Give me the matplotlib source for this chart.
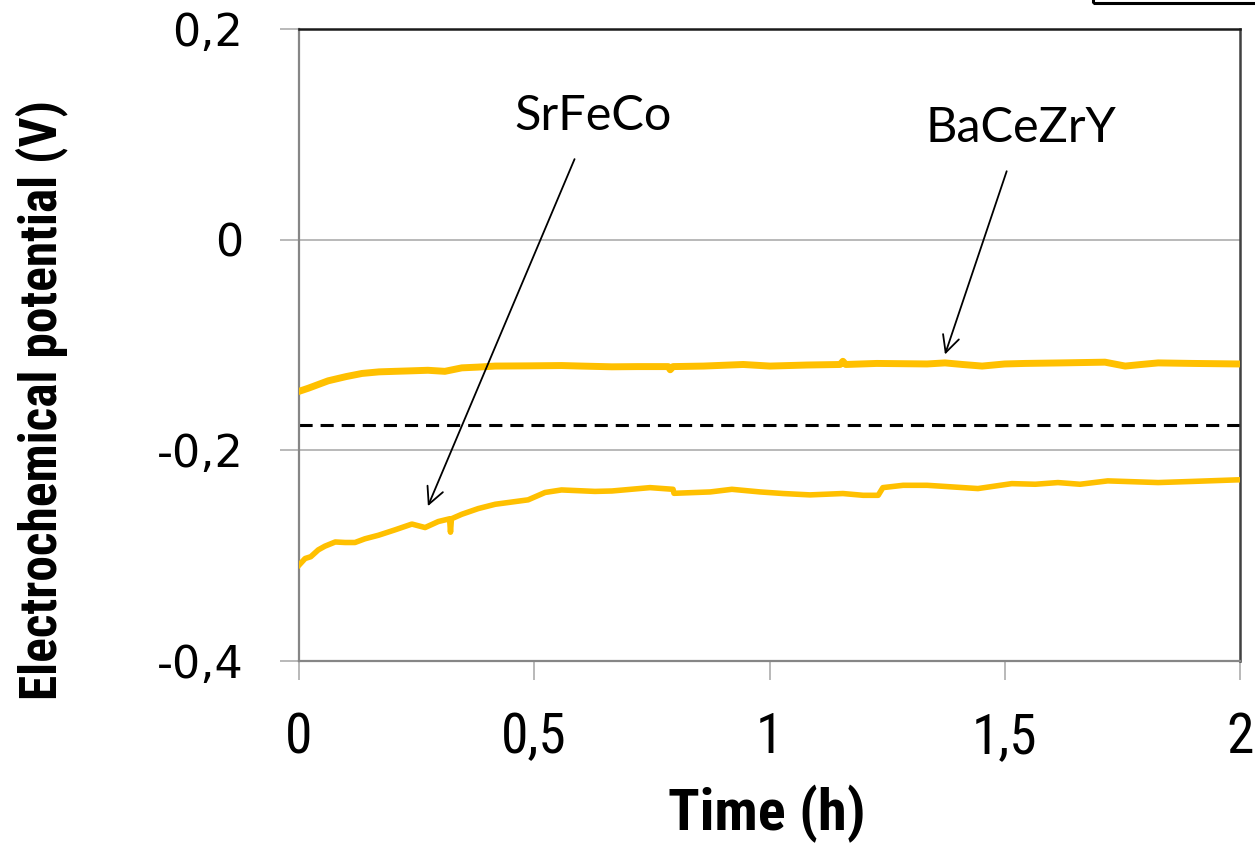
import numpy as np
import matplotlib.pyplot as plt
from matplotlib.patches import Rectangle

# potential vs time, BaCeZrY electrode
t_bcz = [0.0, 0.02, 0.062, 0.10, 0.134, 0.17, 0.204, 0.24, 0.274, 0.31, 0.346, 0.38, 0.417,
         0.487, 0.558, 0.60, 0.665, 0.72, 0.785, 0.789, 0.795, 0.86, 0.944, 1.001, 1.08,
         1.150, 1.156, 1.162, 1.228, 1.335, 1.373, 1.41, 1.452, 1.50, 1.543, 1.62, 1.713,
         1.756, 1.79, 1.826, 1.90, 1.996]
v_bcz = [-0.144, -0.141, -0.134, -0.130, -0.127, -0.1255, -0.125, -0.1245, -0.124, -0.125,
         -0.1217, -0.121, -0.120, -0.1198, -0.1195, -0.120, -0.1207, -0.1205, -0.1205,
         -0.1235, -0.1205, -0.120, -0.1185, -0.120, -0.119, -0.1185, -0.1155, -0.1185,
         -0.1175, -0.118, -0.117, -0.1185, -0.120, -0.118, -0.1175, -0.117, -0.1163,
         -0.120, -0.1185, -0.117, -0.1175, -0.118]

# potential vs time, SrFeCo electrode
t_sfc = [0.0, 0.013, 0.025, 0.041, 0.055, 0.077, 0.098, 0.119, 0.140, 0.169, 0.204, 0.240,
         0.268, 0.296, 0.320, 0.322, 0.324, 0.346, 0.381, 0.417, 0.487, 0.523, 0.558,
         0.629, 0.665, 0.746, 0.795, 0.797, 0.874, 0.920, 0.980, 1.029, 1.086, 1.156,
         1.199, 1.231, 1.241, 1.284, 1.335, 1.443, 1.515, 1.565, 1.613, 1.660, 1.719,
         1.826, 1.90, 1.996]
v_sfc = [-0.309, -0.3027, -0.301, -0.2945, -0.291, -0.287, -0.2875, -0.2875, -0.284, -0.2806,
         -0.2755, -0.270, -0.2733, -0.2676, -0.265, -0.2777, -0.265, -0.2607, -0.2553,
         -0.2512, -0.247, -0.240, -0.2376, -0.239, -0.2386, -0.2354, -0.237, -0.2408,
         -0.2395, -0.237, -0.2395, -0.241, -0.2423, -0.241, -0.2427, -0.2427, -0.2354,
         -0.2332, -0.2332, -0.2363, -0.2316, -0.2322, -0.2306, -0.2322, -0.229, -0.2306,
         -0.2295, -0.228]

ref_level = -0.176  # dashed reference potential

x_ticks = [0, 0.5, 1, 1.5, 2]
x_labels = ['0', '0,5', '1', '1,5', '2']
y_ticks = [-0.4, -0.2, 0, 0.2]
y_labels = ['-0,4', '-0,2', '0', '0,2']

narrow = ['Roboto Condensed', 'Liberation Sans Narrow', 'Roboto', 'DejaVu Sans']
gold = '#FFC000'

fig = plt.figure(figsize=(12.55, 8.43), dpi=100)
ax = fig.add_axes([299 / 1255, 182 / 843, 941 / 1255, 632 / 843])

for y in [0, -0.2]:
    ax.axhline(y, color='#a6a6a6', lw=1.1, zorder=1)

ax.plot(t_bcz, v_bcz, color=gold, lw=5, solid_joinstyle='round', zorder=3)
ax.plot(t_sfc, v_sfc, color=gold, lw=4, solid_joinstyle='round', zorder=3)
ax.plot([0, 2], [ref_level, ref_level], color='black', lw=2.2, dashes=(4.3, 2.6), zorder=2)

ax.set_xlim(0, 2)
ax.set_ylim(-0.4, 0.2)
ax.set_xticks(x_ticks)
ax.set_xticklabels(x_labels, family=narrow, fontsize=40)
ax.set_yticks(y_ticks)
ax.set_yticklabels(y_labels, family='DejaVu Sans', fontsize=32)
ax.tick_params(axis='x', length=14, width=1.1, color='#a6a6a6', pad=22)
ax.tick_params(axis='y', length=14, width=1.1, color='#a6a6a6', pad=26)

ax.spines['left'].set_color('#868686')
ax.spines['bottom'].set_color('#868686')
ax.spines['left'].set_linewidth(1.6)
ax.spines['bottom'].set_linewidth(1.6)
ax.spines['top'].set_color('#1a1a1a')
ax.spines['top'].set_linewidth(1.8)
ax.spines['right'].set_color('#404040')
ax.spines['right'].set_linewidth(1.8)

ax.set_xlabel('Time (h)', family=narrow, fontweight='bold', fontsize=42)
ax.set_ylabel('Electrochemical potential (V)', family=narrow, fontweight='bold', fontsize=37)
ax.xaxis.set_label_coords(0.497, -0.195)
ax.yaxis.set_label_coords(-0.245, 0.413)

arrow = dict(arrowstyle='->', color='black', lw=1.3, mutation_scale=30)
ax.annotate('SrFeCo', xy=(0.274, -0.253), xytext=(0.624, 0.117), ha='center', va='center',
            family='Lato', fontsize=35, arrowprops=dict(arrow, shrinkA=14, shrinkB=0))
ax.annotate('BaCeZrY', xy=(1.373, -0.109), xytext=(1.535, 0.106), ha='center', va='center',
            family='Lato', fontsize=35, arrowprops=dict(arrow, shrinkA=14, shrinkB=0))

# edge of the legend box poking in at the top right
fig.patches.append(Rectangle((1093 / 1255, 840 / 843), 0.2, 0.1, transform=fig.transFigure,
                             fill=False, edgecolor='black', lw=2.2))

fig.savefig('out.png', dpi=100)
